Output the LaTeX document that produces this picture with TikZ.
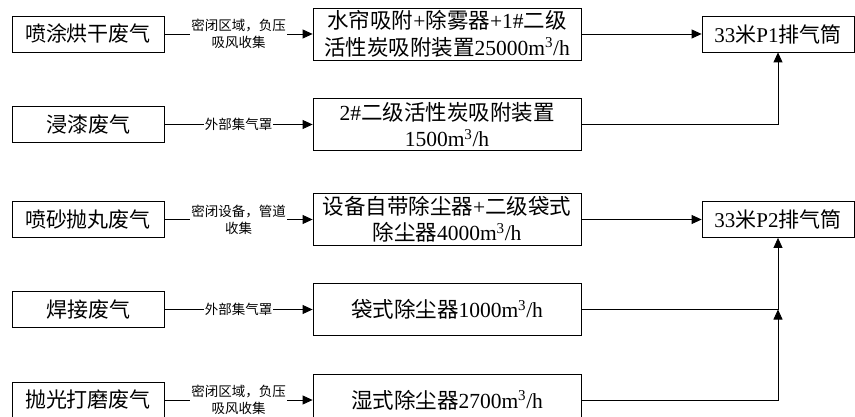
\documentclass[tikz,border=0pt]{standalone}
\usepackage{fontspec}
\setmainfont{Liberation Serif}
\newfontfamily\cjk{Noto Sans CJK SC}
\usetikzlibrary{arrows.meta}
\begin{document}
\begin{tikzpicture}[x=1pt,y=-1pt, line width=0.8pt,
  srcbox/.style={draw, minimum width=152pt, minimum height=36pt, inner sep=0pt,
    font=\cjk\fontsize{21}{26}\selectfont},
  procbox/.style={draw, minimum width=268pt, minimum height=52pt, inner sep=0pt,
    align=center, font=\fontsize{21.5}{26.5}\selectfont},
  stackbox/.style={draw, minimum width=152pt, minimum height=36pt, inner sep=0pt,
    font=\fontsize{21}{26}\selectfont},
  elabel/.style={fill=white, inner sep=1pt, align=center,
    font=\cjk\fontsize{13.5}{17}\selectfont},
  arr/.style={-{Triangle[length=10pt,width=9pt]}}
]
\useasboundingbox (0,0) rectangle (855,417);
\clip (0,0) rectangle (855,417);

% source boxes
\node[srcbox] (l1) at (88,34) {喷涂烘干废气};
\node[srcbox] (l2) at (88,124.5) {浸漆废气};
\node[srcbox] (l3) at (88,219.5) {喷砂抛丸废气};
\node[srcbox] (l4) at (88,309.5) {焊接废气};
\node[srcbox] (l5) at (88,400) {抛光打磨废气};

% treatment boxes
\node[procbox] (m1) at (447,34) {{\cjk 水帘吸附}+{\cjk 除雾器}+1\#{\cjk 二级}\\{\cjk 活性炭吸附装置}25000m\textsuperscript{3}/h};
\node[procbox] (m2) at (447,124.5) {2\#{\cjk 二级活性炭吸附装置}\\1500m\textsuperscript{3}/h};
\node[procbox] (m3) at (447,219.5) {{\cjk 设备自带除尘器}+{\cjk 二级袋式}\\{\cjk 除尘器}4000m\textsuperscript{3}/h};
\node[procbox] (m4) at (447,309.5) {{\cjk 袋式除尘器}1000m\textsuperscript{3}/h};
\node[procbox] (m5) at (447,400) {{\cjk 湿式除尘器}2700m\textsuperscript{3}/h};

% stacks
\node[stackbox] (p1) at (778,34) {33{\cjk 米}P1{\cjk 排气筒}};
\node[stackbox] (p2) at (778,219.5) {33{\cjk 米}P2{\cjk 排气筒}};

% collection arrows
\draw[arr] (l1.east) -- node[elabel] {密闭区域，负压\\吸风收集} (m1.west);
\draw[arr] (l2.east) -- node[elabel] {外部集气罩} (m2.west);
\draw[arr] (l3.east) -- node[elabel] {密闭设备，管道\\收集} (m3.west);
\draw[arr] (l4.east) -- node[elabel] {外部集气罩} (m4.west);
\draw[arr] (l5.east) -- node[elabel] {密闭区域，负压\\吸风收集} (m5.west);

% to stacks
\draw[arr] (m1.east) -- (p1.west);
\draw[arr] (m2.east) -| (p1.south);
\draw[arr] (m3.east) -- (p2.west);
\draw[arr] (m4.east) -| (p2.south);
\coordinate (j) at (p2.south |- m4.east);
\draw[arr] (m5.east) -| (j);
\end{tikzpicture}
\end{document}
